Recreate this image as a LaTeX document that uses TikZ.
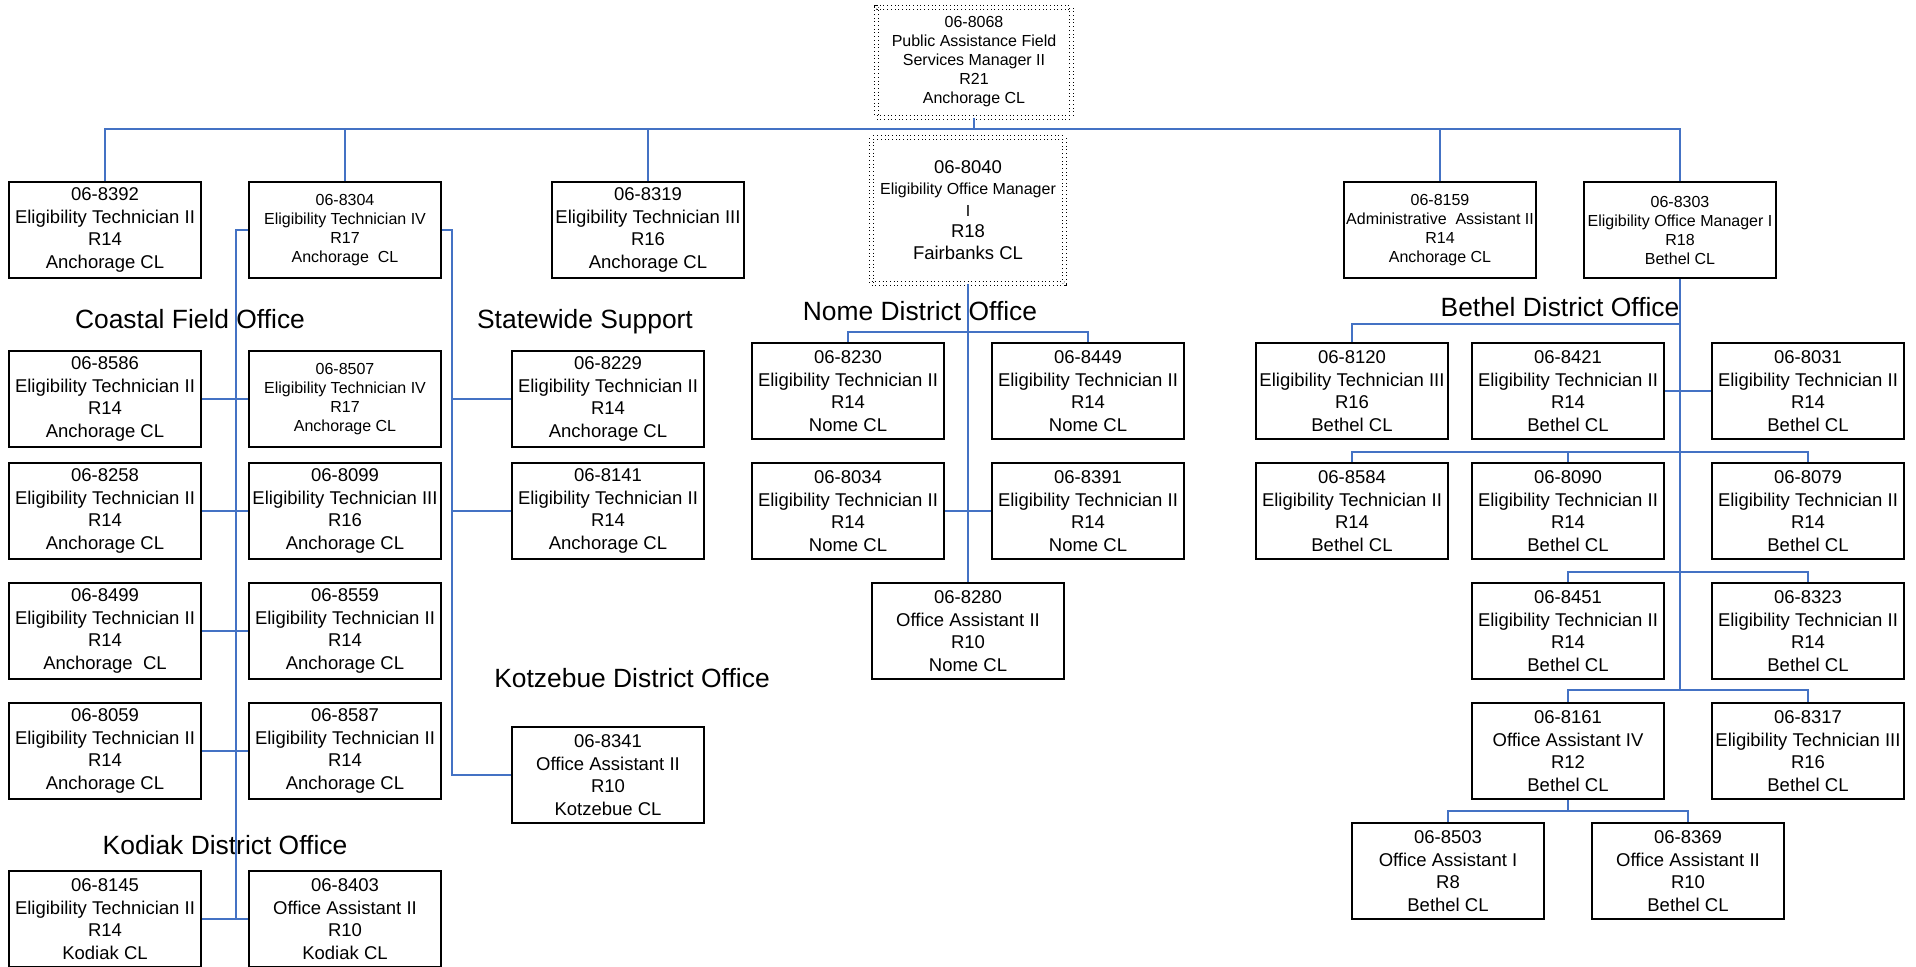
\documentclass[tikz,border=0pt]{standalone}
\usepackage{fontspec}
\setmainfont{Liberation Sans}
\definecolor{linkblue}{RGB}{68,114,196}
\newcommand{\fbig}{\fontsize{9.25pt}{11.25pt}\selectfont}
\newcommand{\fsm}{\fontsize{8pt}{9.5pt}\selectfont}
\newcommand{\fhead}{\fontsize{13.2pt}{15pt}\selectfont}

\begin{document}
\begin{tikzpicture}[x=0.5pt,y=-0.5pt,
  postbox/.style={draw=black,line width=1pt,minimum width=96pt,minimum height=48pt,inner sep=0pt,align=center,font=\fbig},
  postsmall/.style={postbox,font=\fsm},
  vacant/.style={draw=black,line width=0.5pt,double,double distance=1.5pt,dash pattern=on 0.5pt off 1.35pt,inner sep=0pt,align=center},
  officelabel/.style={font=\fhead,inner sep=0pt,anchor=base},
  reportline/.style={draw=linkblue,line width=0.8pt}]
\useasboundingbox (0,0) rectangle (1916,966);

\node[vacant,minimum width=97.5pt,minimum height=55pt,font=\fsm] (b8068) at (974,62) {06-8068\\Public Assistance Field\\Services Manager II\\R21\\Anchorage CL};
\node[vacant,minimum width=96.5pt,minimum height=73pt,font=\fontsize{9.25pt}{10.75pt}\selectfont] (b8040) at (968,210) {06-8040\\{\fsm Eligibility Office Manager}\\{\fsm I}\\R18\\Fairbanks CL};

\node[postbox] (b8392) at (105,230) {06-8392\\Eligibility Technician II\\R14\\Anchorage CL};
\node[postsmall] (b8304) at (345,230) {06-8304\\Eligibility Technician IV\\R17\\Anchorage~~CL};
\node[postbox] (b8319) at (648,230) {06-8319\\Eligibility Technician III\\R16\\Anchorage CL};
\node[postsmall] (b8159) at (1440,230) {06-8159\\Administrative~~Assistant II\\R14\\Anchorage CL};
\node[postsmall] (b8303) at (1680,230) {06-8303\\Eligibility Office Manager I\\R18\\Bethel CL};

\node[officelabel] (hcoastal) at (190,328) {Coastal Field Office};
\node[officelabel] (hstate) at (585,328) {Statewide Support};
\node[officelabel] (hnome) at (920,320) {Nome District Office};
\node[officelabel] (hbethel) at (1560,316) {Bethel District Office};
\node[officelabel] (hkotz) at (632,687) {Kotzebue District Office};
\node[officelabel] (hkodiak) at (225,854) {Kodiak District Office};

\node[postbox] (b8586) at (105,399) {06-8586\\Eligibility Technician II\\R14\\Anchorage CL};
\node[postsmall] (b8507) at (345,399) {06-8507\\Eligibility Technician IV\\R17\\Anchorage CL};
\node[postbox] (b8258) at (105,511) {06-8258\\Eligibility Technician II\\R14\\Anchorage CL};
\node[postbox] (b8099) at (345,511) {06-8099\\Eligibility Technician III\\R16\\Anchorage CL};
\node[postbox] (b8499) at (105,631) {06-8499\\Eligibility Technician II\\R14\\Anchorage~~CL};
\node[postbox] (b8559) at (345,631) {06-8559\\Eligibility Technician II\\R14\\Anchorage CL};
\node[postbox] (b8059) at (105,751) {06-8059\\Eligibility Technician II\\R14\\Anchorage CL};
\node[postbox] (b8587) at (345,751) {06-8587\\Eligibility Technician II\\R14\\Anchorage CL};
\node[postbox] (b8145) at (105,919) {06-8145\\Eligibility Technician II\\R14\\Kodiak CL};
\node[postbox] (b8403) at (345,919) {06-8403\\Office Assistant II\\R10\\Kodiak CL};

\node[postbox] (b8229) at (608,399) {06-8229\\Eligibility Technician II\\R14\\Anchorage CL};
\node[postbox] (b8141) at (608,511) {06-8141\\Eligibility Technician II\\R14\\Anchorage CL};
\node[postbox] (b8341) at (608,775) {06-8341\\Office Assistant II\\R10\\Kotzebue CL};

\node[postbox] (b8230) at (848,391) {06-8230\\Eligibility Technician II\\R14\\Nome CL};
\node[postbox] (b8449) at (1088,391) {06-8449\\Eligibility Technician II\\R14\\Nome CL};
\node[postbox] (b8034) at (848,511) {06-8034\\Eligibility Technician II\\R14\\Nome CL};
\node[postbox] (b8391) at (1088,511) {06-8391\\Eligibility Technician II\\R14\\Nome CL};
\node[postbox] (b8280) at (968,631) {06-8280\\Office Assistant II\\R10\\Nome CL};

\node[postbox] (b8120) at (1352,391) {06-8120\\Eligibility Technician III\\R16\\Bethel CL};
\node[postbox] (b8421) at (1568,391) {06-8421\\Eligibility Technician II\\R14\\Bethel CL};
\node[postbox] (b8031) at (1808,391) {06-8031\\Eligibility Technician II\\R14\\Bethel CL};
\node[postbox] (b8584) at (1352,511) {06-8584\\Eligibility Technician II\\R14\\Bethel CL};
\node[postbox] (b8090) at (1568,511) {06-8090\\Eligibility Technician II\\R14\\Bethel CL};
\node[postbox] (b8079) at (1808,511) {06-8079\\Eligibility Technician II\\R14\\Bethel CL};
\node[postbox] (b8451) at (1568,631) {06-8451\\Eligibility Technician II\\R14\\Bethel CL};
\node[postbox] (b8323) at (1808,631) {06-8323\\Eligibility Technician II\\R14\\Bethel CL};
\node[postbox] (b8161) at (1568,751) {06-8161\\Office Assistant IV\\R12\\Bethel CL};
\node[postbox] (b8317) at (1808,751) {06-8317\\Eligibility Technician III\\R16\\Bethel CL};
\node[postbox] (b8503) at (1448,871) {06-8503\\Office Assistant I\\R8\\Bethel CL};
\node[postbox] (b8369) at (1688,871) {06-8369\\Office Assistant II\\R10\\Bethel CL};

\coordinate (topbus) at (974,129);
\draw[reportline] (b8068.south) -- (topbus);
\foreach \n in {8392,8304,8319,8159,8303}
  \draw[reportline] (topbus) -| (b\n.north);

\coordinate (coastbus) at (236,919);
\draw[reportline] (b8304.west) -| (coastbus);
\foreach \l/\r in {8586/8507,8258/8099,8499/8559,8059/8587,8145/8403}
  \draw[reportline] (b\l.east) -- (b\r.west);

\coordinate (statebus) at (452,775);
\draw[reportline] (b8304.east) -| (statebus) -- (b8341.west);
\foreach \n in {8229,8141}
  \draw[reportline] (b\n.west) -- (b\n.west -| statebus);

\coordinate (nomebus) at (968,332);
\draw[reportline] (b8040.south) -- (b8280.north);
\foreach \n in {8230,8449}
  \draw[reportline] (nomebus) -| (b\n.north);
\draw[reportline] (b8034.east) -- (b8391.west);

\coordinate (bethrow1) at (1680,324);
\coordinate (bethrow2) at (1680,452);
\coordinate (bethrow3) at (1680,572);
\coordinate (bethbus) at (1680,690);
\coordinate (oabus) at (1568,811);
\draw[reportline] (b8303.south) -- (bethbus);
\draw[reportline] (bethrow1) -| (b8120.north);
\draw[reportline] (b8421.east) -- (b8031.west);
\foreach \n in {8584,8090,8079}
  \draw[reportline] (bethrow2) -| (b\n.north);
\foreach \n in {8451,8323}
  \draw[reportline] (bethrow3) -| (b\n.north);
\foreach \n in {8161,8317}
  \draw[reportline] (bethbus) -| (b\n.north);
\draw[reportline] (b8161.south) -- (oabus);
\foreach \n in {8503,8369}
  \draw[reportline] (oabus) -| (b\n.north);
\end{tikzpicture}
\end{document}
